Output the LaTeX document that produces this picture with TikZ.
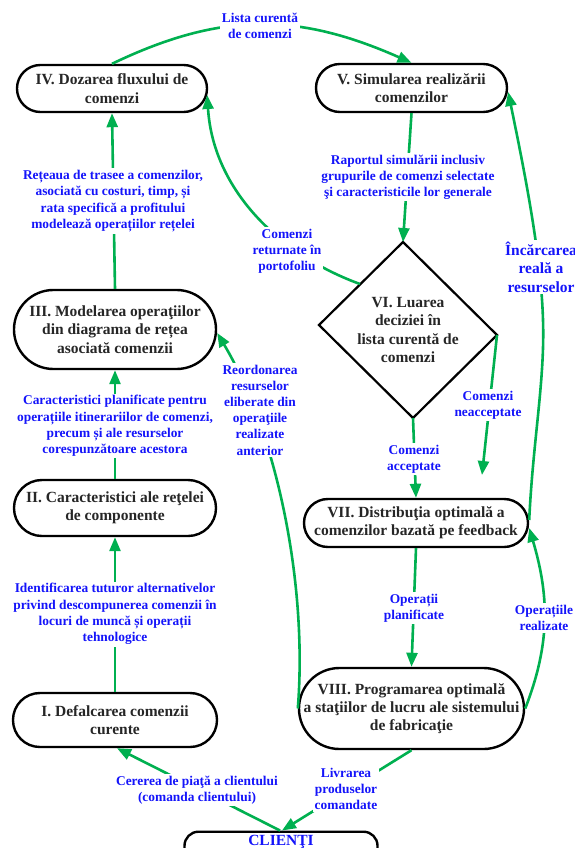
\documentclass[tikz,border=0pt]{standalone}
\usepackage{fontspec}
\setmainfont{Liberation Serif}
\usetikzlibrary{arrows.meta}

\definecolor{arrowgreen}{RGB}{0,176,80}
\definecolor{lblue}{RGB}{20,20,250}
\definecolor{boxtext}{RGB}{38,38,38}

\newcommand\bxfont{\fontsize{15.5}{18.3}\selectfont\bfseries}
\newcommand\lbfont{\fontsize{13.4}{16.2}\selectfont\bfseries}
\newcommand\lbbigfont{\fontsize{15.5}{18.5}\selectfont\bfseries}

\begin{document}
\begin{tikzpicture}[x=1pt,y=-1pt,
  box/.style={draw=black, line width=2.4pt, fill=white, text=boxtext,
    align=center, inner sep=2pt, font=\bxfont, rounded corners=#1},
  lbl/.style={fill=white, text=lblue, align=center, inner sep=2pt, font=\lbfont},
  conn/.style={draw=arrowgreen, line width=2.6pt,
    -{Triangle[length=14pt,width=11pt]}},
  decision/.style={draw=black, line width=2.2pt, fill=white, line join=miter}]

\useasboundingbox (0,0) rectangle (575,848);
\clip (0,0) rectangle (575,848);
\fill[white] (0,0) rectangle (575,848);

% decision diamond VI
\coordinate (VIt) at (403,242);
\coordinate (VIr) at (497,335);
\coordinate (VIb) at (413,418);
\coordinate (VIl) at (319,325);
\coordinate (VIret) at (360,284);
\draw[decision] (VIt) -- (VIr) -- (VIb) -- (VIl) -- cycle;
\node[font=\bxfont, text=boxtext, align=center] (VI) at (408,330)
  {VI. Luarea\\deciziei în\\lista curentă de\\comenzi};

% process boxes
\node[box=23.4pt, minimum width=190pt, minimum height=47pt] (IV) at (112,88.5)
  {IV. Dozarea fluxului de\\comenzi};
\node[box=23.9pt, minimum width=191pt, minimum height=48pt] (V) at (411.5,88)
  {V. Simularea realizării\\comenzilor};
\node[box=39.4pt, minimum width=202pt, minimum height=79pt] (III) at (115,329.5)
  {III. Modelarea operaţiilor\\din diagrama de rețea\\asociată comenzii};
\node[box=27.9pt, minimum width=202pt, minimum height=56pt] (II) at (115,508)
  {II. Caracteristici ale reţelei\\de componente};
\node[box=26.9pt, minimum width=204pt, minimum height=54pt] (I) at (115,720)
  {I. Defalcarea comenzii\\curente};
\node[box=23.9pt, minimum width=224pt, minimum height=48pt] (VII) at (416,523)
  {VII. Distribuţia optimală a\\comenzilor bazată pe feedback};
\node[box=40.4pt, minimum width=225pt, minimum height=81pt] (VIII) at (411.5,708.5)
  {VIII. Programarea optimală\\a staţiilor de lucru ale sistemului\\de fabricaţie};
\node[box=14pt, minimum width=193pt, anchor=north, text=lblue,
  text height=11pt, text depth=40pt, inner sep=3pt] (CL) at (281,830.5) {CLIENŢI};

% connectors
\draw[conn] (IV.north) .. controls (222,11) and (299,13) .. (V.north);
\draw[conn] (V.south) -- (VIt);
\draw[conn] (VIret) .. controls (280,255) and (213,190) .. ([shift={(-1pt,-6.5pt)}]IV.east);
\draw[conn] (III.north) -- (IV.south);
\draw[conn] (II.north) -- (III.south);
\draw[conn] (I.north) -- (II.south);
\draw[conn] ([xshift=-1pt]CL.north) -- ([xshift=2pt]I.south);
\draw[conn] (VIII.south) -- ([xshift=1pt]CL.north);
\draw[conn] (VIb) -- (VII.north);
\coordinate (nacc) at (482,475);
\draw[conn] (VIr) -- (nacc);
\draw[conn] (VII.south) -- (VIII.north);
\draw[conn] (VIII.east) .. controls (552,640) and (548,592) .. ([yshift=-5pt]VII.east);
\draw[conn] ([yshift=3pt]VII.east) .. controls (533,440) and (545,380) .. (543,320)
  .. controls (541,250) and (522,160) .. ([yshift=-4pt]V.east);
\draw[conn] (VIII.west) .. controls (308,580) and (275,430) .. ([yshift=-3.5pt]III.east);

% connector labels
\node[lbl] (lLista) at (260,25.5) {Lista curentă\\de comenzi};
\node[lbl] (lRap) at (408,177)
  {Raportul simulării inclusiv\\grupurile de comenzi selectate\\şi caracteristicile lor generale};
\node[lbl] (lRet) at (287,251) {Comenzi\\returnate în\\portofoliu};
\node[lbl] (lTrasee) at (113,201)
  {Rețeaua de trasee a comenzilor,\\asociată cu costuri, timp, și\\rata specifică a profitului\\modelează operațiilor rețelei};
\node[lbl] (lCar) at (115,426)
  {Caracteristici planificate pentru\\operațiile itinerariilor de comenzi,\\precum și ale resurselor\\corespunzătoare acestora};
\node[lbl] (lReord) at (260,410)
  {Reordonarea\\resurselor\\eliberate din\\operaţiile\\realizate\\anterior};
\node[lbl] (lIdent) at (115,614)
  {Identificarea tuturor alternativelor\\privind descompunerea comenzii în\\locuri de muncă și operații\\tehnologice};
\node[lbl] (lCerere) at (197,790) {Cererea de piaţă a clientului\\(comanda clientului)};
\node[lbl] (lLivr) at (346,789) {Livrarea\\produselor\\comandate};
\node[lbl] (lAcc) at (414,459) {Comenzi\\acceptate};
\node[lbl] (lNeacc) at (488,405) {Comenzi\\neacceptate};
\node[lbl] (lPlan) at (414,608) {Operații\\planificate};
\node[lbl] (lReal) at (544,618) {Operațiile\\realizate};
\node[lbl, font=\lbbigfont] (lInc) at (541,267) {Încărcarea\\reală a\\resurselor};

\end{tikzpicture}
\end{document}
